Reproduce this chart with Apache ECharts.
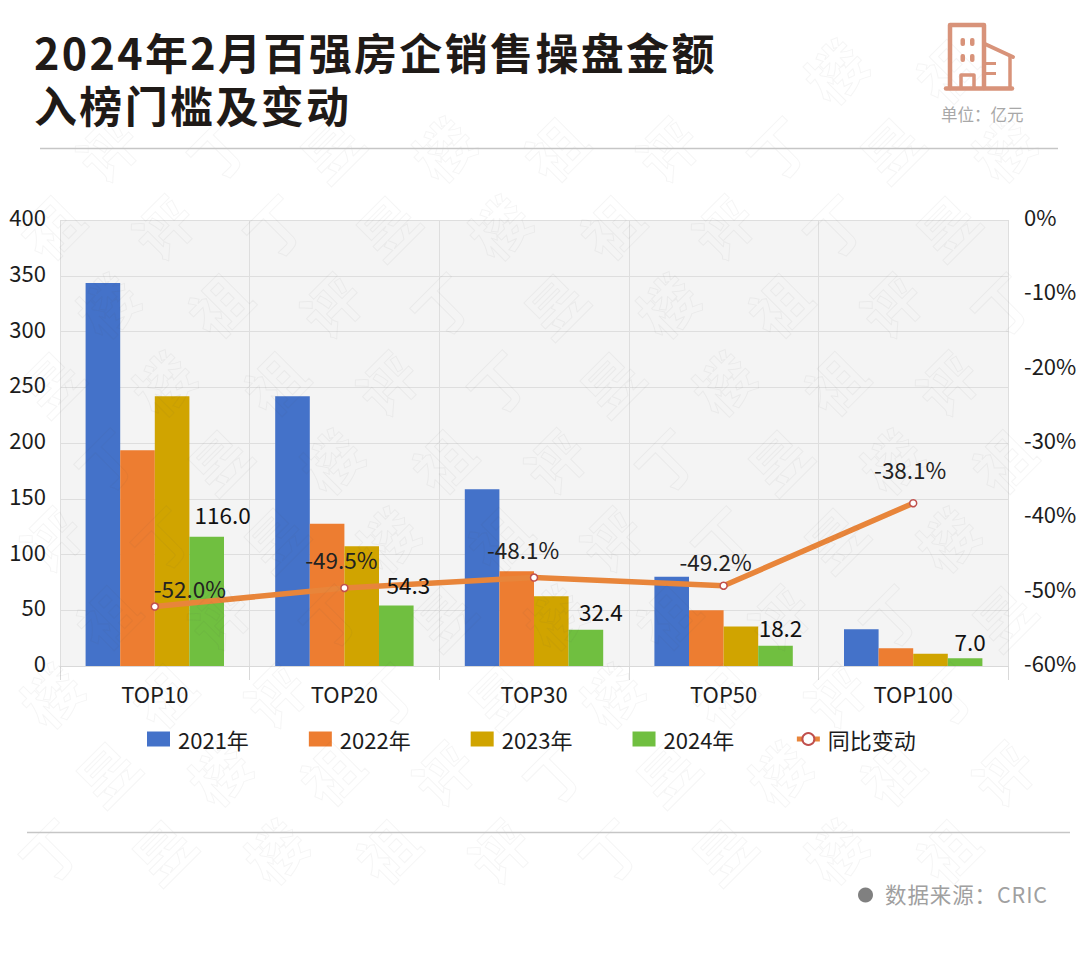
<!DOCTYPE html>
<html><head><meta charset="utf-8">
<style>
html,body{margin:0;padding:0;background:#fff}
#c{width:1080px;height:972px}
svg text[style*="43px"]{letter-spacing:2.35px}
svg text[style*="21.5px"]{letter-spacing:0.9px}
</style>
<script src="https://cdn.jsdelivr.net/npm/echarts@6/dist/echarts.min.js"></script>
</head><body><div id="c"></div>
<script>
const categories=['TOP10','TOP20','TOP30','TOP50','TOP100'];
const v2021=[343.5,242,158.5,80,33];
const v2022=[193.5,127.5,85,50,16];
const v2023=[242,107.5,62.5,35.5,11];
const v2024=[116.0,54.3,32.4,18.2,7.0];
const change=[-52.0,-49.5,-48.1,-49.2,-38.1];
const titleLines=['2024年2月百强房企销售操盘金额','入榜门槛及变动'];
const unitText='单位：亿元';
const sourceText='数据来源：CRIC';
const watermarkChars=['丁','祖','昱','评','楼'];

const FONT='"Noto Sans CJK SC","Noto Sans",sans-serif';
const TXT='#1c1c1c';
const BAR_W=34.6;
const barLabelOffset=[[16,-6],[12,-5],[15,-3],[5,-2],[5,-1]];
const lineLabelOffset=[[35,11],[-3,1],[-11,1],[-8,5],[-3,-5]];

function bar(name,data,color){return{name,type:'bar',data,barWidth:BAR_W,barGap:'0%',
  itemStyle:{color},z:2};}

const graphics=[];
// watermark
for(let r=0;r<11;r++){for(let c=0;c<10;c++){
  const x=c*112+(r%2?56:0)+50, y=r*78+70;
  if(x>1035||y>915)continue;
  if(y<130&&x<770)continue;
  graphics.push({type:'text',silent:true,z:50,x,y,rotation:Math.PI/4,
    style:{text:watermarkChars[(c*2+r*3)%5],font:'bold 58px '+FONT,align:'center',verticalAlign:'middle',fill:'rgba(0,0,0,0)',stroke:'rgba(90,90,90,0.06)',lineWidth:1}});
}}
graphics.push({type:'text',z:60,x:34,y:24,style:{text:titleLines.join('\n'),font:'bold 43px '+FONT,lineHeight:53,fill:'#1f1a17'}});
graphics.push({type:'line',z:60,shape:{x1:40,y1:148.5,x2:1058,y2:148.5},style:{stroke:'#c6c6c6',lineWidth:1.5}});
graphics.push({type:'line',z:60,shape:{x1:27,y1:832.5,x2:1070,y2:832.5},style:{stroke:'#c6c6c6',lineWidth:1.5}});
graphics.push({type:'text',z:60,x:941,y:106,style:{text:unitText,font:'16.5px '+FONT,fill:'#a8a8a8'}});
graphics.push({type:'circle',z:60,shape:{cx:865.5,cy:895,r:7.5},style:{fill:'#808080'}});
graphics.push({type:'text',z:60,x:885,y:883,style:{text:sourceText,font:'21.5px '+FONT,fill:'#a0a0a0'}});
// building icon
const ICON='#d8937a';
const iconLine={stroke:ICON,fill:'none',lineJoin:'round',lineCap:'round'};
graphics.push({type:'polyline',z:60,shape:{points:[[950,88],[950,25],[984,25],[984,88]]},style:{...iconLine,lineWidth:4.5}});
graphics.push({type:'polyline',z:60,shape:{points:[[985,44],[1013,57]]},style:{...iconLine,lineWidth:4}});
graphics.push({type:'line',z:60,shape:{x1:1010,y1:57,x2:1010,y2:88},style:{...iconLine,lineWidth:3.5}});
graphics.push({type:'line',z:60,shape:{x1:946,y1:88.5,x2:1012,y2:88.5},style:{...iconLine,lineWidth:4.5}});
[[960.5,38],[970,38],[960.5,54],[970,54]].forEach(p=>graphics.push({type:'rect',z:60,shape:{x:p[0],y:p[1],width:4.5,height:8,r:2},style:{fill:ICON}}));
graphics.push({type:'polyline',z:60,shape:{points:[[961,88],[961,75],[974,75],[974,88]]},style:{...iconLine,lineWidth:3.5}});
[[986,62],[986,72]].forEach(p=>graphics.push({type:'rect',z:60,shape:{x:p[0],y:p[1],width:10,height:3},style:{fill:ICON}}));

const chart=echarts.init(document.getElementById('c'),null,{renderer:'svg',width:1080,height:972});
chart.setOption({
  animation:false,backgroundColor:'#fff',textStyle:{fontFamily:FONT},
  grid:{left:60,right:72,top:220,bottom:306,show:true,backgroundColor:'#f4f4f4',borderWidth:0},
  legend:{left:142,top:723,itemWidth:23,itemHeight:15,itemGap:60,
    lineStyle:{color:'#e8853a',width:5,opacity:1},
    textStyle:{fontSize:22,color:TXT,fontFamily:FONT,padding:[0,0,0,3]},
    data:[{name:'2021年',icon:'rect'},{name:'2022年',icon:'rect'},{name:'2023年',icon:'rect'},{name:'2024年',icon:'rect'},{name:'同比变动'}]},
  xAxis:{type:'category',data:categories,
    axisLine:{lineStyle:{color:'#d9d9d9',width:1}},
    axisTick:{show:true,length:14,lineStyle:{color:'#d9d9d9'}},
    splitLine:{show:true,lineStyle:{color:'#dedede',width:1}},
    axisLabel:{fontSize:22,color:TXT,margin:16,fontFamily:FONT}},
  yAxis:[
    {type:'value',min:0,max:400,interval:50,axisLine:{show:false},axisTick:{show:false},
     splitLine:{lineStyle:{color:'#dedede',width:1}},
     axisLabel:{fontSize:22,color:TXT,margin:14,fontFamily:FONT,verticalAlign:'bottom',lineHeight:8}},
    {type:'value',min:-60,max:0,interval:10,position:'right',axisLine:{show:false},axisTick:{show:false},
     splitLine:{show:false},
     axisLabel:{fontSize:22,color:TXT,margin:16,fontFamily:FONT,verticalAlign:'bottom',lineHeight:8,formatter:'{value}%'}}
  ],
  series:[
    bar('2021年',v2021,'#4472c9'),
    bar('2022年',v2022,'#ed7d31'),
    bar('2023年',v2023,'#d0a400'),
    bar('2024年',v2024,'#70bf40'),
    {name:'同比变动',type:'line',yAxisIndex:1,z:5,data:change.map((v,i)=>({value:v,label:{offset:lineLabelOffset[i]}})),
     symbol:'circle',symbolSize:7,showAllSymbol:true,
     lineStyle:{color:'#e8853a',width:5.5},
     itemStyle:{color:'#fff',borderColor:'#c0504d',borderWidth:1.5},
     label:{show:true,position:'top',distance:14,fontSize:22.5,color:'#222',fontFamily:FONT,formatter:p=>p.value.toFixed(1)+'%'}},
    {name:'2024年数值',type:'scatter',z:10,silent:true,symbolSize:0,itemStyle:{opacity:1},
     data:v2024.map((v,i)=>({value:[categories[i],v],label:{offset:[1.5*BAR_W+barLabelOffset[i][0],barLabelOffset[i][1]]}})),
     label:{show:true,position:'top',distance:5,fontSize:22.5,color:'#111',opacity:1,fontFamily:FONT,formatter:p=>p.value[1].toFixed(1)}}
  ],
  graphic:{elements:graphics}
});
</script></body></html>
